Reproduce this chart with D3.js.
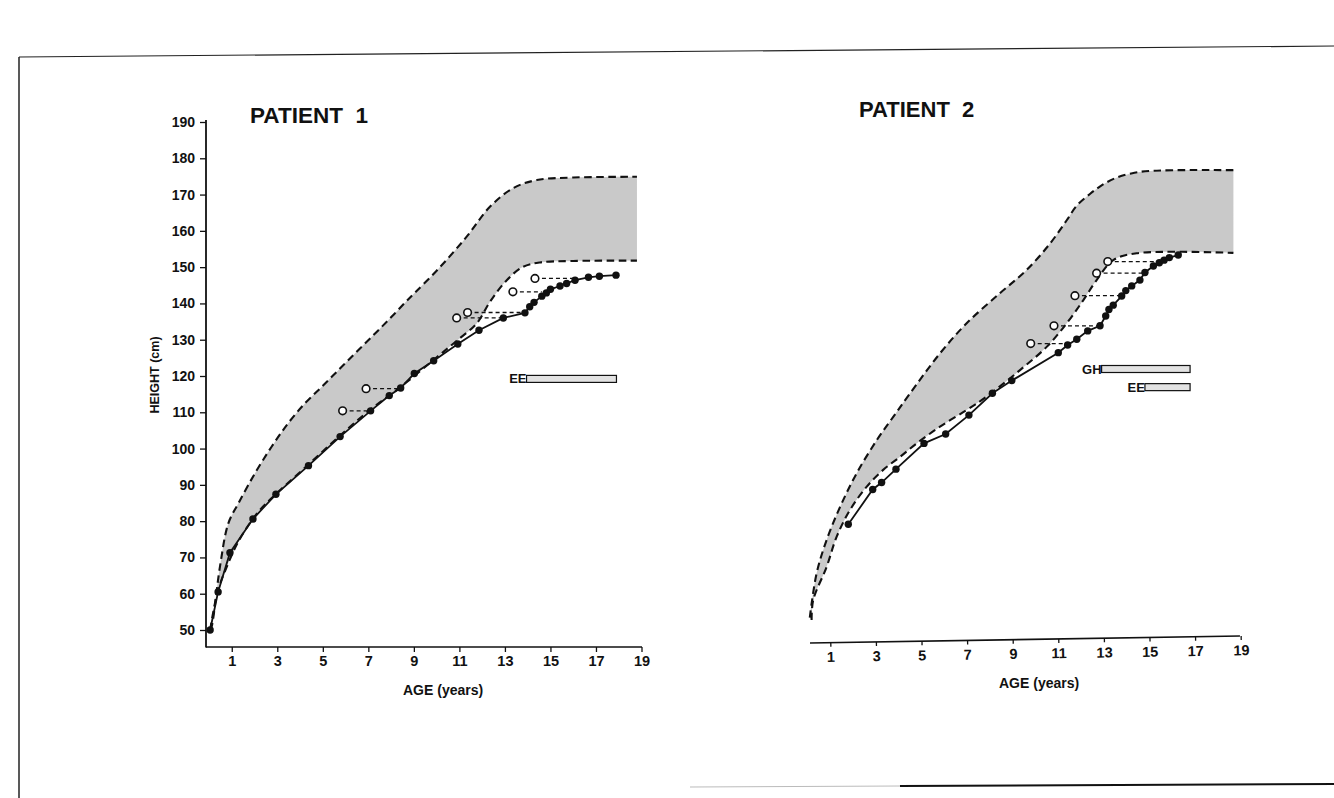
<!DOCTYPE html>
<html><head><meta charset="utf-8">
<script src="https://cdn.jsdelivr.net/npm/d3@7"></script>
<style>
html,body{margin:0;padding:0;background:#fff;}
svg{display:block;}
text{font-family:"Liberation Sans",Arial,Helvetica,sans-serif;font-weight:bold;fill:#111;}
.title{white-space:pre;}
</style></head><body>
<svg id="chart" width="1334" height="798"></svg>
<script>
// ---------- DATA ----------
const ageTicks = [1,3,5,7,9,11,13,15,17,19];
const heightTicks = [50,60,70,80,90,100,110,120,130,140,150,160,170,180,190];

// Patient 1 measured height
const p1Age    = [0.05,0.4,0.92,1.93,2.94,4.37,5.76,7.1,7.92,8.42,9.02,9.87,10.93,11.86,12.93,13.88,14.09,14.28,14.62,14.82,15.0,15.42,15.71,16.08,16.67,17.15,17.88];
const p1Height = [50,60.5,71.3,80.6,87.4,95.3,103.3,110.4,114.6,116.7,120.7,124.2,128.8,132.6,136.0,137.4,139.1,140.3,142.0,142.9,143.9,144.8,145.5,146.4,147.2,147.5,147.8];
// Patient 1 bone age (open circles) and chronological age of the same measurement
const p1BoneAge   = [5.87,6.9,10.88,11.36,13.35,14.32];
const p1BoneHeight= [110.4,116.5,136.0,137.5,143.2,146.9];
const p1BoneChron = [7.1,8.42,12.93,13.88,14.62,16.1];
// Patient 1 reference band
const p1UpperAge = [0.05,0.12,0.48,0.85,1.29,2.02,2.75,3.48,4.22,4.95,5.68,6.41,7.15,7.88,8.61,9.05,10.0,11.32,12.35,13.37,14.4,16.0,18.8];
const p1UpperHt  = [50,51,67.4,79.4,84.9,93.2,100.5,107.0,112.5,117.0,121.6,126.2,130.8,135.4,140.2,143.0,149.0,158.4,166.7,171.8,174.0,174.7,174.9];
const p1LowerAge = [0.05,0.38,0.78,1.3,2.17,3.0,4.37,5.76,7.1,8.42,9.9,10.9,11.76,12.35,13.08,13.8,14.54,16.0,18.8];
const p1LowerHt  = [50,60.6,67.4,74.5,82.6,87.8,95.6,103.6,110.8,117.0,124.6,129.8,134.5,140.5,146.4,150.1,151.3,151.7,151.8];
// Patient 1 therapy bars
const p1BarLabel = ["EE"];
const p1BarStart = [13.95];
const p1BarEnd   = [17.9];
const p1BarHt    = [119.2];

// Patient 2 measured height
const p2Age    = [1.79,2.86,3.25,3.88,5.11,6.06,7.08,8.11,8.96,11.0,11.41,11.81,12.29,12.83,13.08,13.22,13.41,13.78,13.96,14.22,14.58,14.8,15.17,15.43,15.64,15.87,16.26];
const p2Height = [77.2,86.8,88.7,92.4,99.5,102.1,107.3,113.3,116.8,124.5,126.6,128.2,130.5,131.9,134.6,136.4,137.6,140.1,141.6,142.9,144.5,146.6,148.4,149.3,150.0,150.7,151.4];
const p2BoneAge   = [9.79,10.81,11.73,12.68,13.17];
const p2BoneHeight= [127.0,131.9,140.2,146.4,149.6];
const p2BoneChron = [11.41,12.83,13.78,14.8,15.46];
const p2UpperAge = [0.1,0.4,0.84,1.43,2.16,3.04,3.76,4.5,5.81,6.98,8.44,9.61,10.64,11.37,11.81,12.4,12.9,13.5,14.2,15.04,18.68];
const p2UpperHt  = [51.5,63.7,72.9,82.0,91.3,100.4,106.8,113.3,124.3,132.6,140.9,147.3,154.6,161.0,165.0,168.3,170.6,172.6,173.9,174.6,174.8];
const p2LowerAge = [0.18,0.25,0.84,1.28,1.86,2.6,3.32,4.06,4.79,5.81,6.98,7.86,9.32,10.49,11.37,12.1,12.68,13.41,14.44,18.68];
const p2LowerHt  = [50.8,56.3,65.5,73.8,81.1,87.6,92.2,95.8,99.5,104.1,108.7,112.4,119.7,126.1,132.6,139.0,144.5,150.0,151.9,152.0];
const p2BarLabel = ["GH","EE"];
const p2BarStart = [12.9,14.8];
const p2BarEnd   = [16.78,16.78];
const p2BarHt    = [120.0,115.0];

// ---------- DRAW ----------
const svg = d3.select("#chart");
svg.append("rect").attr("width",1334).attr("height",798).attr("fill","#fff");

// page frame (scan edges)
svg.append("line").attr("x1",19).attr("y1",57).attr("x2",1334).attr("y2",46).attr("stroke","#222").attr("stroke-width",1.2);
svg.append("line").attr("x1",19).attr("y1",57).attr("x2",19).attr("y2",798).attr("stroke","#222").attr("stroke-width",1.5);
svg.append("line").attr("x1",690).attr("y1",787).attr("x2",900).attr("y2",786).attr("stroke","#bbb").attr("stroke-width",1);
svg.append("line").attr("x1",900).attr("y1",786).attr("x2",1334).attr("y2",784).attr("stroke","#111").attr("stroke-width",2);

const BAND = "#c9c9c9";
const zip = (a,b) => a.map((v,i)=>[v,b[i]]);

function panel(cfg){
  const {x,y} = cfg;
  const g = svg.append("g");
  const lineC = d3.line().x(d=>x(d[0])).y(d=>y(d[1])).curve(d3.curveCatmullRom.alpha(0.5));
  const up = zip(cfg.upA,cfg.upH), lo = zip(cfg.loA,cfg.loH);
  const dUp = lineC(up);
  const dLoRev = lineC(lo.slice().reverse());
  g.append("path").attr("d", dUp + "L" + dLoRev.slice(1) + "Z").attr("fill",BAND).attr("stroke","none");
  [up,lo].forEach(p=>g.append("path").attr("d",lineC(p)).attr("fill","none")
      .attr("stroke","#111").attr("stroke-width",2.1).attr("stroke-dasharray","7.5,4.5"));
  // connectors
  cfg.bA.forEach((b,i)=>{
    g.append("line").attr("x1",x(b)).attr("y1",y(cfg.bH[i])).attr("x2",x(cfg.bC[i])).attr("y2",y(cfg.bH[i]))
     .attr("stroke","#111").attr("stroke-width",1.3).attr("stroke-dasharray","4,3");
  });
  // measured line
  const pts = zip(cfg.a,cfg.h);
  g.append("path").attr("d",d3.line().x(d=>x(d[0])).y(d=>y(d[1]))(pts))
   .attr("fill","none").attr("stroke","#111").attr("stroke-width",1.8);
  g.selectAll(null).data(pts).enter().append("circle")
   .attr("cx",d=>x(d[0])).attr("cy",d=>y(d[1])).attr("r",3.7).attr("fill","#111");
  g.selectAll(null).data(zip(cfg.bA,cfg.bH)).enter().append("circle")
   .attr("cx",d=>x(d[0])).attr("cy",d=>y(d[1])).attr("r",3.8).attr("fill","#fff")
   .attr("stroke","#111").attr("stroke-width",1.6);
  // therapy bars
  cfg.barL.forEach((l,i)=>{
    const yc = y(cfg.barH[i]);
    g.append("rect").attr("x",x(cfg.barS[i])).attr("y",yc-3.5).attr("width",x(cfg.barE[i])-x(cfg.barS[i])).attr("height",7)
     .attr("fill","#e2e2e2").attr("stroke","#111").attr("stroke-width",1.2);
    g.append("text").attr("x",x(cfg.barS[i])).attr("y",yc+4.5).attr("text-anchor","end")
     .attr("font-size",13).text(l);
  });
  return g;
}

// Patient 1
const x1 = d3.scaleLinear().domain([0,19]).range([209,641.5]);
const y1 = d3.scaleLinear().domain([50,190]).range([630,122]);
panel({x:x1,y:y1,a:p1Age,h:p1Height,bA:p1BoneAge,bH:p1BoneHeight,bC:p1BoneChron,
  upA:p1UpperAge,upH:p1UpperHt,loA:p1LowerAge,loH:p1LowerHt,
  barL:p1BarLabel,barS:p1BarStart,barE:p1BarEnd,barH:p1BarHt});

const ax1 = svg.append("g").attr("transform","translate(206,0)")
  .call(d3.axisLeft(y1).tickValues(heightTicks).tickSize(6).tickSizeOuter(0).tickPadding(5));
ax1.select(".domain").remove();
ax1.selectAll("line").attr("stroke","#111").attr("stroke-width",1.3);
ax1.selectAll("text").attr("font-size",14).attr("fill","#111").style("font-family",null);
svg.append("line").attr("x1",206).attr("y1",120).attr("x2",206).attr("y2",647.5).attr("stroke","#111").attr("stroke-width",1.8);

const bx1 = svg.append("g").attr("transform","translate(0,647)")
  .call(d3.axisBottom(x1).tickValues(ageTicks).tickSize(5).tickSizeOuter(0).tickPadding(4));
bx1.select(".domain").remove();
bx1.selectAll("line").attr("stroke","#111").attr("stroke-width",1.3);
bx1.selectAll("text").attr("font-size",14.5).attr("fill","#111").style("font-family",null);
svg.append("line").attr("x1",206).attr("y1",647).attr("x2",642).attr("y2",647).attr("stroke","#111").attr("stroke-width",1.6);

svg.append("text").attr("class","title").attr("x",250).attr("y",123).attr("font-size",22.5).text("PATIENT  1");
svg.append("text").attr("x",403).attr("y",695).attr("font-size",14).text("AGE (years)");
svg.append("text").attr("transform","translate(159,375) rotate(-90)").attr("text-anchor","middle")
  .attr("font-size",12.5).text("HEIGHT (cm)");

// Patient 2
const x2 = d3.scaleLinear().domain([0,19]).range([807.5,1240.7]);
const y2 = d3.scaleLinear().domain([50,190]).range([623,115]);
panel({x:x2,y:y2,a:p2Age,h:p2Height,bA:p2BoneAge,bH:p2BoneHeight,bC:p2BoneChron,
  upA:p2UpperAge,upH:p2UpperHt,loA:p2LowerAge,loH:p2LowerHt,
  barL:p2BarLabel,barS:p2BarStart,barE:p2BarEnd,barH:p2BarHt});

const bx2 = svg.append("g").attr("transform","rotate(-0.93 810 643) translate(0,643)")
  .call(d3.axisBottom(x2).tickValues(ageTicks).tickSize(4).tickSizeOuter(0).tickPadding(5));
bx2.select(".domain").remove();
bx2.selectAll("line").attr("stroke","#111").attr("stroke-width",1.3);
bx2.selectAll("text").attr("font-size",14.5).attr("fill","#111").style("font-family",null);
bx2.append("line").attr("x1",810).attr("y1",0).attr("x2",1240).attr("y2",0).attr("stroke","#111").attr("stroke-width",1.6);

svg.append("text").attr("class","title").attr("x",859).attr("y",117).attr("font-size",22).text("PATIENT  2");
svg.append("text").attr("x",999).attr("y",688).attr("font-size",14).text("AGE (years)");
</script></body></html>
